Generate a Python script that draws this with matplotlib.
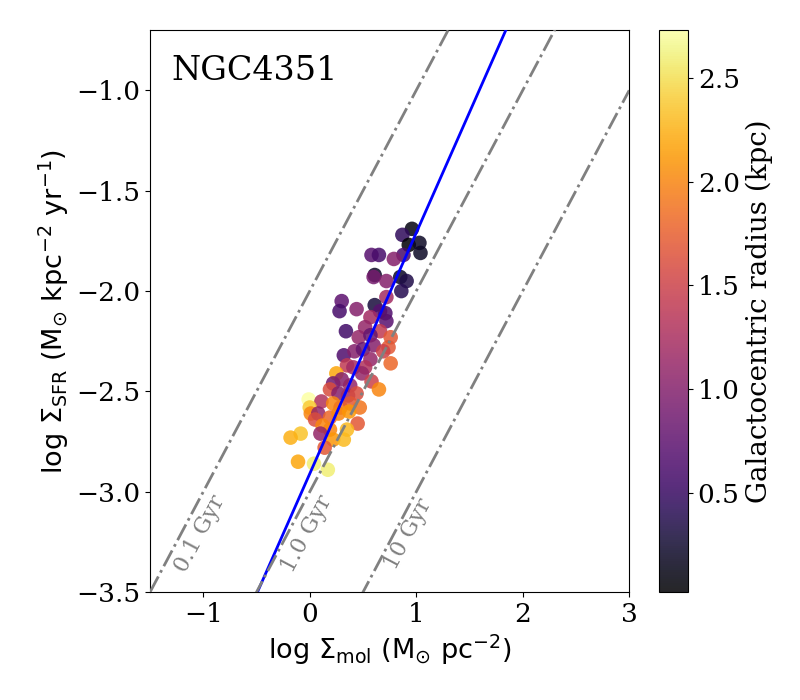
import numpy as np
import matplotlib
matplotlib.use('Agg')
import matplotlib.pyplot as plt

plt.rcParams['font.family'] = 'DejaVu Serif'
plt.rcParams['mathtext.fontset'] = 'dejavusans'

# galaxy data: log Sigma_mol, log Sigma_SFR, galactocentric radius (kpc)
log_mol = [0.96, 0.87, 0.93, 1.03, 1.04, 0.88, 0.58, 0.65, 0.79, 0.61,
           0.60, 0.72, 0.85, 0.91, 0.86, 0.72, 0.30, 0.28, 0.44, 0.61,
           0.71, 0.66, 0.57, 0.72, 0.34, 0.52, 0.66, 0.76, 0.46, 0.57,
           0.60, 0.74, 0.69, 0.32, 0.42, 0.50, 0.57, 0.76, 0.35, 0.41,
           0.52, 0.25, 0.49, 0.58, 0.22, 0.30, 0.38, 0.65, 0.19, 0.27,
           0.36, 0.44, -0.01, 0.11, 0.00, 0.22, 0.29, 0.38, 0.47, 0.01,
           0.08, 0.05, 0.19, 0.27, 0.37, 0.45, 0.12, 0.19, 0.35, 0.10,
           -0.085, -0.18, 0.22, 0.32, 0.14, -0.11, 0.04, 0.17]
log_sfr = [-1.69, -1.72, -1.77, -1.76, -1.81, -1.82, -1.82, -1.82, -1.84, -1.92,
           -1.93, -1.95, -1.93, -1.95, -2.00, -2.03, -2.05, -2.10, -2.09, -2.07,
           -2.11, -2.10, -2.13, -2.15, -2.20, -2.18, -2.20, -2.23, -2.23, -2.22,
           -2.27, -2.28, -2.30, -2.32, -2.30, -2.29, -2.34, -2.36, -2.37, -2.38,
           -2.38, -2.41, -2.41, -2.45, -2.46, -2.44, -2.47, -2.49, -2.49, -2.51,
           -2.52, -2.51, -2.54, -2.55, -2.58, -2.56, -2.58, -2.56, -2.58, -2.61,
           -2.61, -2.64, -2.63, -2.61, -2.60, -2.66, -2.67, -2.69, -2.69, -2.71,
           -2.71, -2.73, -2.74, -2.74, -2.78, -2.85, -2.86, -2.89]
radius = [0.10, 0.45, 0.02, 0.20, 0.20, 0.60, 0.70, 0.60, 1.00, 0.20,
          0.90, 1.00, 0.20, 0.35, 0.40, 1.20, 0.75, 0.60, 1.00, 0.30,
          0.65, 0.70, 1.20, 0.70, 0.55, 1.10, 1.40, 1.70, 1.10, 0.80,
          1.00, 1.70, 1.50, 0.65, 1.00, 0.80, 1.10, 1.80, 1.40, 1.20,
          1.30, 2.20, 1.10, 1.50, 0.85, 1.00, 1.10, 2.00, 1.60, 1.00,
          1.20, 1.60, 2.73, 1.30, 2.40, 2.00, 1.90, 1.70, 1.90, 2.00,
          1.10, 1.60, 1.80, 2.00, 2.10, 1.70, 2.00, 2.00, 2.30, 1.10,
          2.35, 2.25, 2.10, 2.30, 1.70, 2.20, 2.60, 2.60]

# depletion time lines (Gyr) and fit
tdep = [0.1, 1.0, 10]
tdep_labels = ['0.1 Gyr', '1.0 Gyr', '10 Gyr']
label_x = [-1.03, -0.03, 0.93]
fit_slope = 1.20
fit_intercept = -2.91

fig = plt.figure(figsize=(8, 7), dpi=100)
ax = fig.add_axes([0.1875, 0.154, 0.599, 0.803])
cax = fig.add_axes([0.824, 0.154, 0.036, 0.803])

xx = np.array([-1.5, 3.0])
for t, lab, lx in zip(tdep, tdep_labels, label_x):
    ax.plot(xx, xx + 6 - np.log10(t * 1e9), color='gray', ls='-.', lw=2, zorder=5)
    ax.text(lx, -3.21, lab, color='gray', fontsize=16, rotation=62,
            ha='center', va='center')

sc = ax.scatter(log_mol, log_sfr, c=radius, cmap='inferno', s=110,
                alpha=0.85, edgecolors='none', zorder=3)
ax.plot(xx, fit_slope * xx + fit_intercept, color='blue', lw=2, zorder=4)

ax.text(0.045, 0.955, 'NGC4351', transform=ax.transAxes, fontsize=24,
        ha='left', va='top')

ax.set_xlim(-1.5, 3)
ax.set_ylim(-3.5, -0.7)
ax.set_xticks([-1, 0, 1, 2, 3])
ax.set_yticks([-3.5, -3.0, -2.5, -2.0, -1.5, -1.0])
ax.tick_params(labelsize=19)
ax.set_xlabel(r'$\rm log\ \Sigma_{mol}\ (M_{\odot}\ pc^{-2})$', fontsize=19.5)
ax.set_ylabel(r'$\rm log\ \Sigma_{SFR}\ (M_{\odot}\ kpc^{-2}\ yr^{-1})$', fontsize=19.5)

cb = fig.colorbar(sc, cax=cax)
cb.set_ticks([0.5, 1.0, 1.5, 2.0, 2.5])
cb.ax.tick_params(labelsize=19)
cb.set_label('Galactocentric radius (kpc)', fontsize=20)

fig.savefig('out.png', dpi=100)
